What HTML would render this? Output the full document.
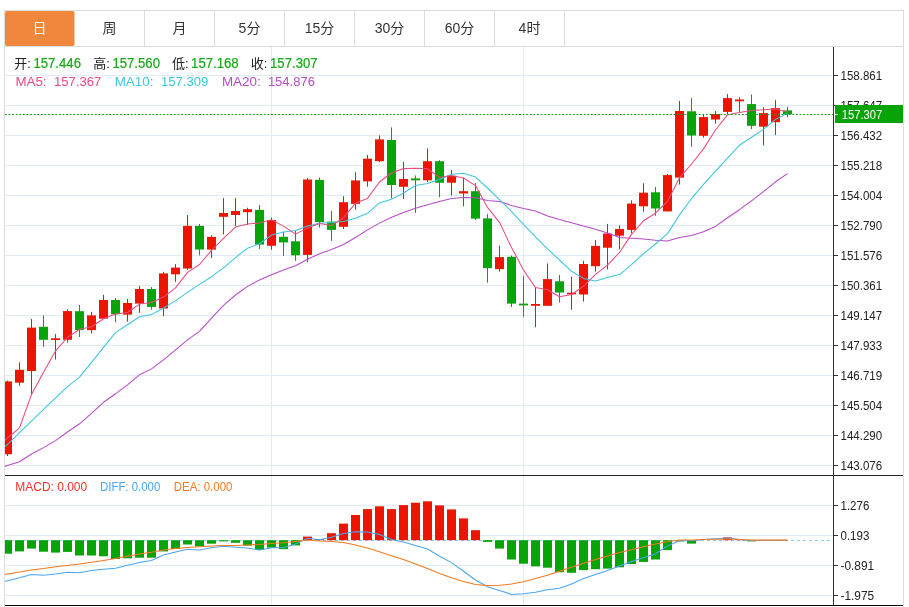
<!DOCTYPE html>
<html lang="zh-CN"><head><meta charset="utf-8"><title>K线图</title>
<style>
html,body{margin:0;padding:0;background:#fff;}
body{width:909px;height:607px;overflow:hidden;position:relative;font-family:"Liberation Sans","Noto Sans CJK SC",sans-serif;}
#box{position:absolute;left:4px;top:10px;width:898px;height:620px;border:1px solid #dcdcdc;}
#tabs{position:absolute;left:0;top:0;width:898px;height:35px;border-bottom:1px solid #dcdcdc;}
.tab{position:absolute;top:0;width:69px;height:35px;line-height:35px;text-align:center;font-size:14px;color:#333;border-right:1px solid #dcdcdc;}
.tab.on{background:#f0873d;color:#fff;border-radius:2px;border-right-color:#f0c8a8;}
svg{position:absolute;left:0;top:0;}
text{font-family:"Liberation Sans","Noto Sans CJK SC",sans-serif;}
</style></head><body>
<div id="box"><div id="tabs">
<div class="tab on" style="left:0px">日</div>
<div class="tab" style="left:70px">周</div>
<div class="tab" style="left:140px">月</div>
<div class="tab" style="left:210px">5分</div>
<div class="tab" style="left:280px">15分</div>
<div class="tab" style="left:350px">30分</div>
<div class="tab" style="left:420px">60分</div>
<div class="tab" style="left:490px">4时</div>
</div></div>
<svg width="909" height="607" viewBox="0 0 909 607">
<defs><clipPath id="cp"><rect x="5" y="47" width="828" height="558"/></clipPath></defs>
<g shape-rendering="crispEdges"><rect x="5" y="75" width="828" height="1" fill="#e1ebf3"/><rect x="5" y="105" width="828" height="1" fill="#e1ebf3"/><rect x="5" y="135" width="828" height="1" fill="#e1ebf3"/><rect x="5" y="165" width="828" height="1" fill="#e1ebf3"/><rect x="5" y="195" width="828" height="1" fill="#e1ebf3"/><rect x="5" y="225" width="828" height="1" fill="#e1ebf3"/><rect x="5" y="255" width="828" height="1" fill="#e1ebf3"/><rect x="5" y="285" width="828" height="1" fill="#e1ebf3"/><rect x="5" y="315" width="828" height="1" fill="#e1ebf3"/><rect x="5" y="345" width="828" height="1" fill="#e1ebf3"/><rect x="5" y="375" width="828" height="1" fill="#e1ebf3"/><rect x="5" y="405" width="828" height="1" fill="#e1ebf3"/><rect x="5" y="435" width="828" height="1" fill="#e1ebf3"/><rect x="5" y="465" width="828" height="1" fill="#e1ebf3"/><rect x="5" y="505" width="828" height="1" fill="#e1ebf3"/><rect x="5" y="535" width="828" height="1" fill="#e1ebf3"/><rect x="5" y="565" width="828" height="1" fill="#e1ebf3"/><rect x="5" y="595" width="828" height="1" fill="#e1ebf3"/><rect x="271" y="47" width="1" height="558" fill="#e1ebf3"/><rect x="523" y="47" width="1" height="558" fill="#e1ebf3"/></g>
<g clip-path="url(#cp)">
<rect x="7" y="380.6" width="1" height="75.4" fill="#ee1500"/><rect x="3" y="381.4" width="9" height="72.9" fill="#ee1500"/>
<rect x="19" y="362.3" width="1" height="23.3" fill="#ee1500"/><rect x="15" y="369.8" width="9" height="12.9" fill="#ee1500"/>
<rect x="31" y="319.0" width="1" height="75.9" fill="#ee1500"/><rect x="27" y="327.6" width="9" height="43.4" fill="#ee1500"/>
<rect x="43" y="315.5" width="1" height="31.4" fill="#06a406"/><rect x="39" y="326.8" width="9" height="13.0" fill="#06a406"/>
<rect x="55" y="334.1" width="1" height="25.4" fill="#ee1500"/><rect x="51" y="338.3" width="9" height="1.7" fill="#ee1500"/>
<rect x="67" y="309.6" width="1" height="33.1" fill="#ee1500"/><rect x="63" y="311.1" width="9" height="28.7" fill="#ee1500"/>
<rect x="79" y="305.0" width="1" height="32.0" fill="#06a406"/><rect x="75" y="311.2" width="9" height="18.9" fill="#06a406"/>
<rect x="91" y="311.8" width="1" height="21.6" fill="#ee1500"/><rect x="87" y="315.4" width="9" height="14.7" fill="#ee1500"/>
<rect x="103" y="294.8" width="1" height="23.9" fill="#ee1500"/><rect x="99" y="300.0" width="9" height="18.7" fill="#ee1500"/>
<rect x="115" y="297.9" width="1" height="24.3" fill="#06a406"/><rect x="111" y="300.0" width="9" height="14.3" fill="#06a406"/>
<rect x="127" y="298.8" width="1" height="22.8" fill="#ee1500"/><rect x="123" y="303.0" width="9" height="11.6" fill="#ee1500"/>
<rect x="139" y="285.9" width="1" height="26.8" fill="#ee1500"/><rect x="135" y="289.0" width="9" height="14.6" fill="#ee1500"/>
<rect x="151" y="287.1" width="1" height="22.5" fill="#06a406"/><rect x="147" y="289.0" width="9" height="17.9" fill="#06a406"/>
<rect x="163" y="272.1" width="1" height="44.2" fill="#ee1500"/><rect x="159" y="273.4" width="9" height="35.1" fill="#ee1500"/>
<rect x="175" y="264.0" width="1" height="17.8" fill="#ee1500"/><rect x="171" y="267.6" width="9" height="6.7" fill="#ee1500"/>
<rect x="187" y="215.0" width="1" height="54.8" fill="#ee1500"/><rect x="183" y="225.9" width="9" height="42.6" fill="#ee1500"/>
<rect x="199" y="224.0" width="1" height="31.4" fill="#06a406"/><rect x="195" y="225.9" width="9" height="23.6" fill="#06a406"/>
<rect x="211" y="235.3" width="1" height="22.7" fill="#ee1500"/><rect x="207" y="236.9" width="9" height="12.7" fill="#ee1500"/>
<rect x="223" y="198.1" width="1" height="36.3" fill="#ee1500"/><rect x="219" y="213.0" width="9" height="3.8" fill="#ee1500"/>
<rect x="235" y="198.1" width="1" height="27.8" fill="#ee1500"/><rect x="231" y="211.0" width="9" height="4.0" fill="#ee1500"/>
<rect x="247" y="207.7" width="1" height="17.3" fill="#ee1500"/><rect x="243" y="209.2" width="9" height="3.0" fill="#ee1500"/>
<rect x="259" y="205.0" width="1" height="43.9" fill="#06a406"/><rect x="255" y="209.9" width="9" height="34.7" fill="#06a406"/>
<rect x="271" y="217.5" width="1" height="32.3" fill="#ee1500"/><rect x="267" y="220.0" width="9" height="25.8" fill="#ee1500"/>
<rect x="283" y="231.8" width="1" height="24.0" fill="#06a406"/><rect x="279" y="236.8" width="9" height="5.6" fill="#06a406"/>
<rect x="295" y="231.0" width="1" height="29.9" fill="#06a406"/><rect x="291" y="241.3" width="9" height="14.0" fill="#06a406"/>
<rect x="307" y="178.1" width="1" height="84.1" fill="#ee1500"/><rect x="303" y="179.5" width="9" height="75.4" fill="#ee1500"/>
<rect x="319" y="177.5" width="1" height="50.1" fill="#06a406"/><rect x="315" y="179.9" width="9" height="42.2" fill="#06a406"/>
<rect x="331" y="210.8" width="1" height="30.0" fill="#06a406"/><rect x="327" y="221.7" width="9" height="8.2" fill="#06a406"/>
<rect x="343" y="196.2" width="1" height="32.8" fill="#ee1500"/><rect x="339" y="202.2" width="9" height="24.6" fill="#ee1500"/>
<rect x="355" y="172.3" width="1" height="37.2" fill="#ee1500"/><rect x="351" y="180.4" width="9" height="23.5" fill="#ee1500"/>
<rect x="367" y="155.0" width="1" height="31.6" fill="#ee1500"/><rect x="363" y="158.7" width="9" height="22.7" fill="#ee1500"/>
<rect x="379" y="135.4" width="1" height="26.7" fill="#ee1500"/><rect x="375" y="139.4" width="9" height="21.8" fill="#ee1500"/>
<rect x="391" y="127.3" width="1" height="71.1" fill="#06a406"/><rect x="387" y="140.0" width="9" height="45.0" fill="#06a406"/>
<rect x="403" y="161.8" width="1" height="37.2" fill="#ee1500"/><rect x="399" y="179.0" width="9" height="7.8" fill="#ee1500"/>
<rect x="415" y="175.4" width="1" height="37.5" fill="#06a406"/><rect x="411" y="178.4" width="9" height="1.9" fill="#06a406"/>
<rect x="427" y="148.5" width="1" height="33.6" fill="#ee1500"/><rect x="423" y="161.2" width="9" height="19.1" fill="#ee1500"/>
<rect x="439" y="160.3" width="1" height="36.9" fill="#06a406"/><rect x="435" y="161.2" width="9" height="21.5" fill="#06a406"/>
<rect x="451" y="170.0" width="1" height="25.7" fill="#ee1500"/><rect x="447" y="175.8" width="9" height="6.9" fill="#ee1500"/>
<rect x="463" y="177.6" width="1" height="28.7" fill="#ee1500"/><rect x="459" y="191.2" width="9" height="2.3" fill="#ee1500"/>
<rect x="475" y="183.2" width="1" height="36.7" fill="#06a406"/><rect x="471" y="191.2" width="9" height="27.4" fill="#06a406"/>
<rect x="487" y="214.1" width="1" height="68.6" fill="#06a406"/><rect x="483" y="218.4" width="9" height="49.8" fill="#06a406"/>
<rect x="499" y="245.6" width="1" height="26.0" fill="#ee1500"/><rect x="495" y="257.1" width="9" height="12.0" fill="#ee1500"/>
<rect x="511" y="255.5" width="1" height="51.5" fill="#06a406"/><rect x="507" y="256.8" width="9" height="46.8" fill="#06a406"/>
<rect x="523" y="275.8" width="1" height="40.9" fill="#06a406"/><rect x="519" y="303.6" width="9" height="1.8" fill="#06a406"/>
<rect x="535" y="287.6" width="1" height="39.6" fill="#ee1500"/><rect x="531" y="304.0" width="9" height="1.8" fill="#ee1500"/>
<rect x="547" y="263.5" width="1" height="42.3" fill="#ee1500"/><rect x="543" y="279.1" width="9" height="26.7" fill="#ee1500"/>
<rect x="559" y="274.9" width="1" height="27.6" fill="#06a406"/><rect x="555" y="281.3" width="9" height="11.2" fill="#06a406"/>
<rect x="571" y="276.7" width="1" height="33.1" fill="#ee1500"/><rect x="567" y="292.7" width="9" height="1.6" fill="#ee1500"/>
<rect x="583" y="260.8" width="1" height="40.8" fill="#ee1500"/><rect x="579" y="264.0" width="9" height="30.5" fill="#ee1500"/>
<rect x="595" y="240.0" width="1" height="31.6" fill="#ee1500"/><rect x="591" y="245.9" width="9" height="20.3" fill="#ee1500"/>
<rect x="607" y="223.9" width="1" height="45.6" fill="#ee1500"/><rect x="603" y="233.5" width="9" height="14.2" fill="#ee1500"/>
<rect x="619" y="225.3" width="1" height="24.0" fill="#ee1500"/><rect x="615" y="229.0" width="9" height="6.7" fill="#ee1500"/>
<rect x="631" y="200.3" width="1" height="32.9" fill="#ee1500"/><rect x="627" y="203.6" width="9" height="26.3" fill="#ee1500"/>
<rect x="643" y="183.2" width="1" height="28.5" fill="#ee1500"/><rect x="639" y="192.7" width="9" height="13.6" fill="#ee1500"/>
<rect x="655" y="186.9" width="1" height="28.8" fill="#06a406"/><rect x="651" y="192.3" width="9" height="16.2" fill="#06a406"/>
<rect x="667" y="174.0" width="1" height="37.4" fill="#ee1500"/><rect x="663" y="175.1" width="9" height="36.3" fill="#ee1500"/>
<rect x="679" y="101.0" width="1" height="83.5" fill="#ee1500"/><rect x="675" y="111.0" width="9" height="66.6" fill="#ee1500"/>
<rect x="691" y="98.1" width="1" height="48.6" fill="#06a406"/><rect x="687" y="111.3" width="9" height="24.2" fill="#06a406"/>
<rect x="703" y="115.0" width="1" height="22.6" fill="#ee1500"/><rect x="699" y="117.1" width="9" height="18.7" fill="#ee1500"/>
<rect x="715" y="111.0" width="1" height="12.7" fill="#ee1500"/><rect x="711" y="114.0" width="9" height="5.5" fill="#ee1500"/>
<rect x="727" y="94.1" width="1" height="19.9" fill="#ee1500"/><rect x="723" y="98.1" width="9" height="13.8" fill="#ee1500"/>
<rect x="739" y="97.3" width="1" height="14.6" fill="#ee1500"/><rect x="735" y="99.5" width="9" height="1.8" fill="#ee1500"/>
<rect x="751" y="94.4" width="1" height="34.7" fill="#06a406"/><rect x="747" y="104.1" width="9" height="21.7" fill="#06a406"/>
<rect x="763" y="107.3" width="1" height="38.0" fill="#ee1500"/><rect x="759" y="113.1" width="9" height="13.6" fill="#ee1500"/>
<rect x="775" y="100.1" width="1" height="34.8" fill="#ee1500"/><rect x="771" y="108.1" width="9" height="14.1" fill="#ee1500"/>
<rect x="787" y="106.8" width="1" height="10.3" fill="#06a406"/><rect x="783" y="110.4" width="9" height="4.0" fill="#06a406"/>
<polyline points="5.0,466.4 7.5,465.6 19.5,461.7 31.5,454.0 43.5,447.6 55.5,440.6 67.5,432.0 79.5,423.8 91.5,413.4 103.5,402.3 115.5,393.8 127.5,384.8 139.5,374.8 151.5,368.9 163.5,359.9 175.5,349.9 187.5,339.9 199.5,331.4 211.5,318.1 223.5,305.4 235.5,295.0 247.5,286.4 259.5,279.9 271.5,274.7 283.5,269.9 295.5,265.8 307.5,259.3 319.5,253.8 331.5,249.5 343.5,244.5 355.5,237.5 367.5,229.9 379.5,223.1 391.5,217.3 403.5,212.5 415.5,208.2 427.5,204.8 439.5,201.5 451.5,198.6 463.5,197.5 475.5,197.8 487.5,200.5 499.5,201.4 511.5,205.4 523.5,208.5 535.5,211.1 547.5,216.1 559.5,219.6 571.5,222.8 583.5,225.9 595.5,229.3 607.5,233.0 619.5,237.4 631.5,238.3 643.5,239.0 655.5,240.3 667.5,241.1 679.5,237.6 691.5,235.4 703.5,231.7 715.5,226.4 727.5,217.8 739.5,209.7 751.5,200.8 763.5,191.6 775.5,181.8 787.5,173.6" fill="none" stroke="#b64cc6" stroke-width="1.05" stroke-linejoin="round"/>
<polyline points="5.0,446.5 7.5,444.5 19.5,432.7 31.5,421.1 43.5,409.4 55.5,397.8 67.5,386.7 79.5,377.2 91.5,362.3 103.5,347.3 115.5,332.6 127.5,324.8 139.5,316.7 151.5,314.6 163.5,308.0 175.5,300.9 187.5,292.4 199.5,284.4 211.5,276.7 223.5,267.8 235.5,257.6 247.5,248.2 259.5,243.7 271.5,235.1 283.5,231.9 295.5,230.4 307.5,225.9 319.5,223.2 331.5,222.5 343.5,221.4 355.5,218.3 367.5,213.3 379.5,202.9 391.5,199.2 403.5,193.0 415.5,185.5 427.5,183.6 439.5,179.5 451.5,174.3 463.5,173.3 475.5,177.1 487.5,188.0 499.5,199.6 511.5,211.6 523.5,224.4 535.5,236.8 547.5,248.8 559.5,260.0 571.5,271.3 583.5,278.4 595.5,281.1 607.5,277.6 619.5,274.6 631.5,264.6 643.5,253.6 655.5,244.0 667.5,233.6 679.5,214.9 691.5,198.7 703.5,184.4 715.5,171.2 727.5,158.1 739.5,145.2 751.5,137.3 763.5,129.4 775.5,119.4 787.5,113.3" fill="none" stroke="#3cc6e0" stroke-width="1.05" stroke-linejoin="round"/>
<polyline points="5.0,440.2 7.5,438.0 19.5,427.8 31.5,394.6 43.5,372.2 55.5,350.9 67.5,337.4 79.5,329.2 91.5,326.8 103.5,318.7 115.5,314.1 127.5,312.5 139.5,304.1 151.5,302.5 163.5,297.1 175.5,287.9 187.5,272.4 199.5,264.5 211.5,250.3 223.5,238.3 235.5,227.1 247.5,223.9 259.5,222.9 271.5,219.7 283.5,226.1 295.5,234.1 307.5,228.1 319.5,223.6 331.5,225.6 343.5,217.8 355.5,203.1 367.5,198.4 379.5,182.0 391.5,173.0 403.5,168.4 415.5,168.3 427.5,168.8 439.5,177.4 451.5,175.6 463.5,178.0 475.5,185.6 487.5,207.4 499.5,222.3 511.5,247.5 523.5,270.0 535.5,287.6 547.5,289.7 559.5,296.7 571.5,294.5 583.5,286.3 595.5,274.3 607.5,265.1 619.5,252.5 631.5,234.4 643.5,220.8 655.5,213.2 667.5,201.3 679.5,177.9 691.5,164.0 703.5,148.9 715.5,130.0 727.5,114.8 739.5,112.6 751.5,110.6 763.5,109.8 775.5,109.0 787.5,112.1" fill="none" stroke="#ea4c7e" stroke-width="1.05" stroke-linejoin="round"/>
<line x1="5" y1="540.5" x2="833" y2="540.5" stroke="#86cdf0" stroke-width="1" stroke-dasharray="3 3"/>
<rect x="3" y="540.2" width="9" height="13.5" fill="#06a406"/>
<rect x="15" y="540.2" width="9" height="11.2" fill="#06a406"/>
<rect x="27" y="540.2" width="9" height="8.4" fill="#06a406"/>
<rect x="39" y="540.2" width="9" height="11.5" fill="#06a406"/>
<rect x="51" y="540.2" width="9" height="12.4" fill="#06a406"/>
<rect x="63" y="540.2" width="9" height="11.7" fill="#06a406"/>
<rect x="75" y="540.2" width="9" height="15.3" fill="#06a406"/>
<rect x="87" y="540.2" width="9" height="15.3" fill="#06a406"/>
<rect x="99" y="540.2" width="9" height="16.1" fill="#06a406"/>
<rect x="111" y="540.2" width="9" height="18.8" fill="#06a406"/>
<rect x="123" y="540.2" width="9" height="18.1" fill="#06a406"/>
<rect x="135" y="540.2" width="9" height="17.5" fill="#06a406"/>
<rect x="147" y="540.2" width="9" height="17.5" fill="#06a406"/>
<rect x="159" y="540.2" width="9" height="11.2" fill="#06a406"/>
<rect x="171" y="540.2" width="9" height="8.8" fill="#06a406"/>
<rect x="183" y="540.2" width="9" height="4.3" fill="#06a406"/>
<rect x="195" y="540.2" width="9" height="6.3" fill="#06a406"/>
<rect x="207" y="540.2" width="9" height="3.5" fill="#06a406"/>
<rect x="219" y="540.2" width="9" height="1.2" fill="#06a406"/>
<rect x="231" y="540.2" width="9" height="2.6" fill="#06a406"/>
<rect x="243" y="540.2" width="9" height="5.4" fill="#06a406"/>
<rect x="255" y="540.2" width="9" height="9.7" fill="#06a406"/>
<rect x="267" y="540.2" width="9" height="7.5" fill="#06a406"/>
<rect x="279" y="540.2" width="9" height="9.0" fill="#06a406"/>
<rect x="291" y="540.2" width="9" height="5.2" fill="#06a406"/>
<rect x="303" y="536.6" width="9" height="3.6" fill="#ee1500"/>
<rect x="315" y="539.1" width="9" height="1.1" fill="#ee1500"/>
<rect x="327" y="533.2" width="9" height="7.0" fill="#ee1500"/>
<rect x="339" y="523.6" width="9" height="16.6" fill="#ee1500"/>
<rect x="351" y="515.0" width="9" height="25.2" fill="#ee1500"/>
<rect x="363" y="509.1" width="9" height="31.1" fill="#ee1500"/>
<rect x="375" y="506.3" width="9" height="33.9" fill="#ee1500"/>
<rect x="387" y="509.1" width="9" height="31.1" fill="#ee1500"/>
<rect x="399" y="505.1" width="9" height="35.1" fill="#ee1500"/>
<rect x="411" y="502.7" width="9" height="37.5" fill="#ee1500"/>
<rect x="423" y="501.3" width="9" height="38.9" fill="#ee1500"/>
<rect x="435" y="505.4" width="9" height="34.8" fill="#ee1500"/>
<rect x="447" y="509.4" width="9" height="30.8" fill="#ee1500"/>
<rect x="459" y="518.4" width="9" height="21.8" fill="#ee1500"/>
<rect x="471" y="530.2" width="9" height="10.0" fill="#ee1500"/>
<rect x="483" y="540.2" width="9" height="1.7" fill="#06a406"/>
<rect x="495" y="540.2" width="9" height="8.4" fill="#06a406"/>
<rect x="507" y="540.2" width="9" height="19.3" fill="#06a406"/>
<rect x="519" y="540.2" width="9" height="23.5" fill="#06a406"/>
<rect x="531" y="540.2" width="9" height="26.2" fill="#06a406"/>
<rect x="543" y="540.2" width="9" height="27.5" fill="#06a406"/>
<rect x="555" y="540.2" width="9" height="32.0" fill="#06a406"/>
<rect x="567" y="540.2" width="9" height="32.6" fill="#06a406"/>
<rect x="579" y="540.2" width="9" height="29.9" fill="#06a406"/>
<rect x="591" y="540.2" width="9" height="29.0" fill="#06a406"/>
<rect x="603" y="540.2" width="9" height="28.4" fill="#06a406"/>
<rect x="615" y="540.2" width="9" height="27.1" fill="#06a406"/>
<rect x="627" y="540.2" width="9" height="23.9" fill="#06a406"/>
<rect x="639" y="540.2" width="9" height="21.7" fill="#06a406"/>
<rect x="651" y="540.2" width="9" height="19.3" fill="#06a406"/>
<rect x="663" y="540.2" width="9" height="9.9" fill="#06a406"/>
<rect x="675" y="540.2" width="9" height="1.2" fill="#06a406"/>
<rect x="687" y="540.2" width="9" height="3.4" fill="#06a406"/>
<rect x="723" y="537.4" width="9" height="2.8" fill="#ee1500"/>
<rect x="735" y="539.4" width="9" height="0.8" fill="#ee1500"/>
<rect x="747" y="540.2" width="9" height="1.2" fill="#06a406"/>
<polyline points="5.0,581.3 7.5,580.7 19.5,577.7 31.5,574.4 43.5,575.3 55.5,574.1 67.5,572.2 79.5,572.8 91.5,570.4 103.5,569.2 115.5,568.2 127.5,565.3 139.5,562.6 151.5,560.5 163.5,555.0 175.5,551.9 187.5,549.2 199.5,549.9 211.5,547.7 223.5,546.3 235.5,547.2 247.5,548.1 259.5,550.1 271.5,547.7 283.5,547.7 295.5,544.1 307.5,538.3 319.5,539.8 331.5,537.2 343.5,533.6 355.5,531.7 367.5,532.1 379.5,534.5 391.5,539.6 403.5,542.1 415.5,545.4 427.5,549.0 439.5,556.3 451.5,562.6 463.5,571.3 475.5,580.0 487.5,586.8 499.5,590.4 511.5,594.4 523.5,593.7 535.5,592.2 547.5,589.8 559.5,588.2 571.5,584.0 583.5,578.6 595.5,574.4 607.5,570.4 619.5,566.0 631.5,561.5 643.5,557.7 655.5,553.7 667.5,545.9 679.5,540.8 691.5,540.8 703.5,539.6 715.5,538.7 727.5,538.1 739.5,539.6 751.5,540.5 763.5,540.2 775.5,540.2 787.5,540.2" fill="none" stroke="#4aa6f2" stroke-width="1.05" stroke-linejoin="round"/>
<polyline points="5.0,574.4 7.5,574.0 19.5,571.9 31.5,570.1 43.5,568.6 55.5,566.8 67.5,565.5 79.5,564.1 91.5,562.3 103.5,560.4 115.5,558.6 127.5,556.3 139.5,554.1 151.5,552.3 163.5,549.9 175.5,548.6 187.5,547.4 199.5,546.8 211.5,545.9 223.5,545.4 235.5,545.4 247.5,545.0 259.5,544.5 271.5,543.6 283.5,542.7 295.5,541.4 307.5,539.9 319.5,541.0 331.5,541.4 343.5,542.6 355.5,545.0 367.5,548.1 379.5,551.7 391.5,555.7 403.5,559.5 415.5,563.9 427.5,568.6 439.5,573.5 451.5,577.7 463.5,581.5 475.5,584.4 487.5,585.5 499.5,585.3 511.5,584.0 523.5,581.7 535.5,578.6 547.5,575.3 559.5,571.3 571.5,567.2 583.5,563.2 595.5,559.5 607.5,555.9 619.5,552.6 631.5,549.7 643.5,546.8 655.5,544.1 667.5,541.7 679.5,540.1 691.5,539.9 703.5,539.6 715.5,539.2 727.5,539.0 739.5,539.6 751.5,540.1 763.5,540.1 775.5,540.1 787.5,540.1" fill="none" stroke="#f47a20" stroke-width="1.05" stroke-linejoin="round"/>
<line x1="5" y1="114.5" x2="833" y2="114.5" stroke="#14a014" stroke-width="1" stroke-dasharray="1.8 1.795"/>
</g>
<g shape-rendering="crispEdges">
<rect x="833" y="47" width="1" height="559" fill="#333"/>
<rect x="5" y="475" width="898" height="1" fill="#222"/>
<rect x="5" y="605" width="898" height="1" fill="#000"/>
<rect x="834" y="75" width="4" height="1" fill="#333"/>
<rect x="834" y="105" width="4" height="1" fill="#333"/>
<rect x="834" y="135" width="4" height="1" fill="#333"/>
<rect x="834" y="165" width="4" height="1" fill="#333"/>
<rect x="834" y="195" width="4" height="1" fill="#333"/>
<rect x="834" y="225" width="4" height="1" fill="#333"/>
<rect x="834" y="255" width="4" height="1" fill="#333"/>
<rect x="834" y="285" width="4" height="1" fill="#333"/>
<rect x="834" y="315" width="4" height="1" fill="#333"/>
<rect x="834" y="345" width="4" height="1" fill="#333"/>
<rect x="834" y="375" width="4" height="1" fill="#333"/>
<rect x="834" y="405" width="4" height="1" fill="#333"/>
<rect x="834" y="435" width="4" height="1" fill="#333"/>
<rect x="834" y="465" width="4" height="1" fill="#333"/>
<rect x="834" y="505" width="4" height="1" fill="#333"/>
<rect x="834" y="535" width="4" height="1" fill="#333"/>
<rect x="834" y="565" width="4" height="1" fill="#333"/>
<rect x="834" y="595" width="4" height="1" fill="#333"/>
</g>
<text x="840.5" y="79.5" font-size="12" fill="#222" textLength="41.7" lengthAdjust="spacingAndGlyphs">158.861</text>
<text x="840.5" y="109.5" font-size="12" fill="#222" textLength="41.7" lengthAdjust="spacingAndGlyphs">157.647</text>
<text x="840.5" y="139.5" font-size="12" fill="#222" textLength="41.7" lengthAdjust="spacingAndGlyphs">156.432</text>
<text x="840.5" y="169.5" font-size="12" fill="#222" textLength="41.7" lengthAdjust="spacingAndGlyphs">155.218</text>
<text x="840.5" y="199.5" font-size="12" fill="#222" textLength="41.7" lengthAdjust="spacingAndGlyphs">154.004</text>
<text x="840.5" y="229.5" font-size="12" fill="#222" textLength="41.7" lengthAdjust="spacingAndGlyphs">152.790</text>
<text x="840.5" y="259.5" font-size="12" fill="#222" textLength="41.7" lengthAdjust="spacingAndGlyphs">151.576</text>
<text x="840.5" y="289.5" font-size="12" fill="#222" textLength="41.7" lengthAdjust="spacingAndGlyphs">150.361</text>
<text x="840.5" y="319.5" font-size="12" fill="#222" textLength="41.7" lengthAdjust="spacingAndGlyphs">149.147</text>
<text x="840.5" y="349.5" font-size="12" fill="#222" textLength="41.7" lengthAdjust="spacingAndGlyphs">147.933</text>
<text x="840.5" y="379.5" font-size="12" fill="#222" textLength="41.7" lengthAdjust="spacingAndGlyphs">146.719</text>
<text x="840.5" y="409.5" font-size="12" fill="#222" textLength="41.7" lengthAdjust="spacingAndGlyphs">145.504</text>
<text x="840.5" y="439.5" font-size="12" fill="#222" textLength="41.7" lengthAdjust="spacingAndGlyphs">144.290</text>
<text x="840.5" y="469.5" font-size="12" fill="#222" textLength="41.7" lengthAdjust="spacingAndGlyphs">143.076</text>
<text x="840.5" y="509.5" font-size="12" fill="#222" textLength="28.8" lengthAdjust="spacingAndGlyphs">1.276</text>
<text x="840.5" y="539.5" font-size="12" fill="#222" textLength="28.8" lengthAdjust="spacingAndGlyphs">0.193</text>
<text x="840.5" y="569.5" font-size="12" fill="#222" textLength="33.6" lengthAdjust="spacingAndGlyphs">-0.891</text>
<text x="840.5" y="599.5" font-size="12" fill="#222" textLength="33.6" lengthAdjust="spacingAndGlyphs">-1.975</text>
<rect x="835" y="105" width="68" height="18" fill="#06a406" shape-rendering="crispEdges"/>
<rect x="835" y="114" width="3" height="1" fill="#fff" shape-rendering="crispEdges"/>
<text x="841.8" y="118.7" font-size="12" fill="#fff" textLength="40.5" lengthAdjust="spacingAndGlyphs">157.307</text>
<text x="14.2" y="67.8" font-size="13" fill="#222">开:</text>
<text x="33.4" y="67.6" font-size="14" fill="#18a818" textLength="47.6" lengthAdjust="spacingAndGlyphs" stroke="#18a818" stroke-width="0.2">157.446</text>
<text x="93.2" y="67.8" font-size="13" fill="#222">高:</text>
<text x="112.4" y="67.6" font-size="14" fill="#18a818" textLength="47.6" lengthAdjust="spacingAndGlyphs" stroke="#18a818" stroke-width="0.2">157.560</text>
<text x="171.89999999999998" y="67.8" font-size="13" fill="#222">低:</text>
<text x="191.1" y="67.6" font-size="14" fill="#18a818" textLength="47.6" lengthAdjust="spacingAndGlyphs" stroke="#18a818" stroke-width="0.2">157.168</text>
<text x="250.79999999999998" y="67.8" font-size="13" fill="#222">收:</text>
<text x="270.0" y="67.6" font-size="14" fill="#18a818" textLength="47.6" lengthAdjust="spacingAndGlyphs" stroke="#18a818" stroke-width="0.2">157.307</text>
<text x="15.4" y="85.7" font-size="13.6" fill="#ea4c7e" textLength="31.2" lengthAdjust="spacingAndGlyphs">MA5:</text>
<text x="54" y="85.7" font-size="13.6" fill="#ea4c7e" textLength="47.2" lengthAdjust="spacingAndGlyphs">157.367</text>
<text x="114.7" y="85.7" font-size="13.6" fill="#3cc6e0" textLength="38.8" lengthAdjust="spacingAndGlyphs">MA10:</text>
<text x="161" y="85.7" font-size="13.6" fill="#3cc6e0" textLength="47.2" lengthAdjust="spacingAndGlyphs">157.309</text>
<text x="221.9" y="85.7" font-size="13.6" fill="#b64cc6" textLength="38.8" lengthAdjust="spacingAndGlyphs">MA20:</text>
<text x="267.9" y="85.7" font-size="13.6" fill="#b64cc6" textLength="47.0" lengthAdjust="spacingAndGlyphs">154.876</text>
<text x="15.3" y="490.6" font-size="12.3" fill="#f03228" textLength="71.8" lengthAdjust="spacingAndGlyphs">MACD: 0.000</text>
<text x="100" y="490.6" font-size="12.3" fill="#4aa6f2" textLength="60.3" lengthAdjust="spacingAndGlyphs">DIFF: 0.000</text>
<text x="173.8" y="490.6" font-size="12.3" fill="#f47a20" textLength="58.6" lengthAdjust="spacingAndGlyphs">DEA: 0.000</text>
</svg></body></html>
